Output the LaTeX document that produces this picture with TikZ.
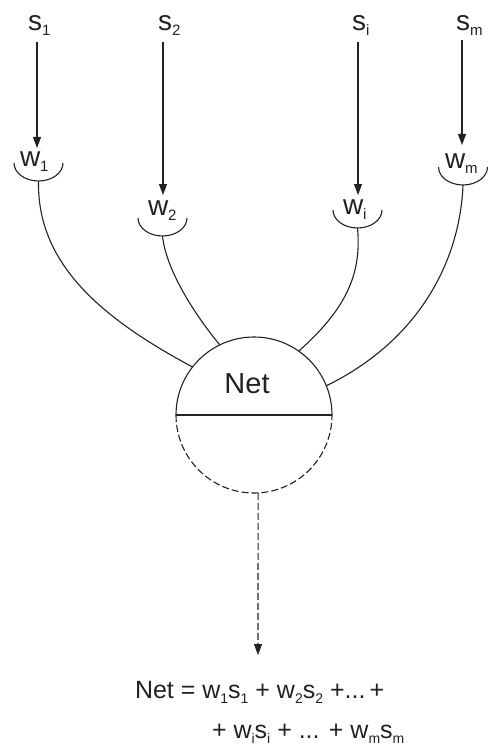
\documentclass[tikz,border=0pt]{standalone}
\usepackage{fontspec}
\setmainfont{Liberation Sans}
\usetikzlibrary{arrows.meta}
\definecolor{ink}{HTML}{222222}
\newcommand\lsub[1]{\raisebox{-5pt}{\fontsize{15}{15}\selectfont #1}}
\newcommand\fsub[1]{\raisebox{-5pt}{\fontsize{14}{14}\selectfont #1}}
\begin{document}
\begin{tikzpicture}[x=1pt,y=1pt,
  lab/.style={inner sep=0pt, outer sep=0pt, anchor=base west, text=ink, font=\fontsize{28}{30}\selectfont},
  frm/.style={inner sep=0pt, outer sep=0pt, anchor=base west, text=ink, font=\fontsize{25}{27}\selectfont},
  wire/.style={draw=ink, line width=1.1pt},
  arr/.style={wire, -{Triangle[length=11pt,width=8pt]}},
  darr/.style={arr, dash pattern=on 7pt off 3pt},
  dashline/.style={wire, dash pattern=on 7pt off 3pt},
]
\useasboundingbox (0,0) rectangle (493,-754);

% input labels
\node[lab] (s1) at (28,-31) {s\lsub{1}};
\node[lab] (s2) at (158,-31) {s\lsub{2}};
\node[lab] (si) at (352,-31) {s\lsub{i}};
\node[lab] (sm) at (456,-31) {s\lsub{m}};

% weight labels
\node[lab] (w1) at (20,-167) {w\lsub{1}};
\node[lab] (w2) at (148,-215) {w\lsub{2}};
\node[lab] (wi) at (343,-214) {w\lsub{i}};
\node[lab] (wm) at (445,-168) {w\lsub{m}};

% arc centres and bottoms
\coordinate (c1) at (38.5,-163);
\coordinate (c2) at (162.5,-218);
\coordinate (ci) at (357.5,-210);
\coordinate (cm) at (463,-167);
\foreach \k in {1,2,i,m}{
  \draw[wire] ([xshift=-24.5pt]c\k) arc[start angle=180,end angle=360,x radius=24.5,y radius=18];
  \coordinate (b\k) at ([yshift=-18pt]c\k);
}

% arrow tips
\coordinate (t1) at (37,-148);
\coordinate (t2) at (163,-195);
\coordinate (ti) at (358,-195);
\coordinate (tm) at (462,-145);
\draw[arr] (t1 |- 0,-42) -- (t1);
\draw[arr] (t2 |- 0,-42) -- (t2);
\draw[arr] (ti |- 0,-42) -- (ti);
\draw[arr] (tm |- 0,-40) -- (tm);

% neuron
\node[circle, minimum size=156pt, inner sep=0pt, outer sep=0pt] (net) at (254,-415) {};
\draw[wire] (net.west) arc[start angle=180,end angle=0,radius=78];
\draw[dashline] (net.west) arc[start angle=180,end angle=360,radius=78];
\draw[wire, line width=1.6pt] (net.west) -- (net.east);
\node[inner sep=0pt, anchor=base, text=ink, font=\fontsize{29}{31}\selectfont] (nettxt) at (247,-393) {Net};

% connectors
\draw[wire] (b1) .. controls (37,-260) and (95,-315) .. (net.142.6);
\draw[wire] (b2) .. controls (166,-270) and (195,-315) .. (net.116.6);
\draw[wire] (bi) .. controls (362,-275) and (345,-310) .. (net.55.9);
\draw[wire] (bm) .. controls (460,-260) and (420,-340) .. (net.22.3);

% output
\coordinate (tip) at (258,-655);
\draw[darr] (net.273.3) -- (tip);

\node[frm] (f1) at (135,-698) {Net = w\fsub{1}s\fsub{1} + w\fsub{2}s\fsub{2} +...\,+};
\node[frm] (f2) at (212,-738) {+ w\fsub{i}s\fsub{i} + ... + w\fsub{m}s\fsub{m}};
\end{tikzpicture}
\end{document}
